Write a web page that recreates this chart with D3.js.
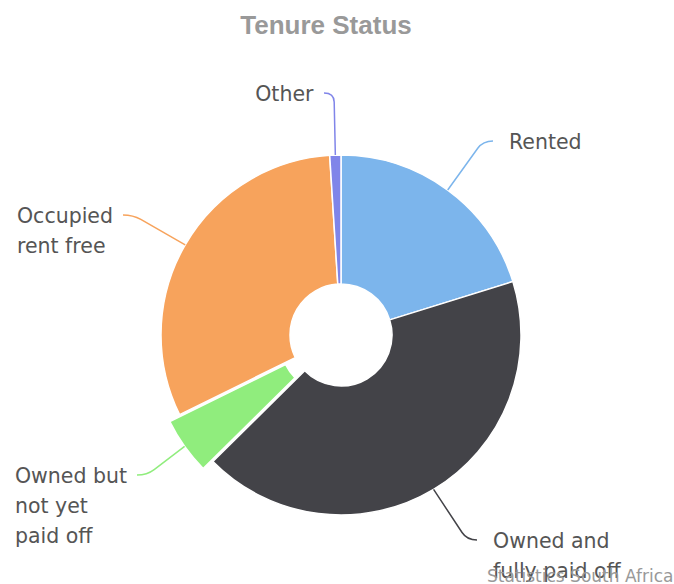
<!DOCTYPE html>
<html>
<head>
<meta charset="utf-8">
<script src="https://cdn.jsdelivr.net/npm/d3@7"></script>
<style>
  html, body { margin: 0; padding: 0; background: #fff; }
  svg { display: block; }
</style>
</head>
<body>
<svg id="chart" width="674" height="584"></svg>
<script>
// ---- data ----
const categories = ["Rented", "Owned and fully paid off", "Owned but not yet paid off", "Occupied rent free", "Other"];
const values = [20.2, 42.4, 5.1, 31.3, 1.0];
const labelLines = [["Rented"], ["Owned and", "fully paid off"], ["Owned but", "not yet", "paid off"], ["Occupied", "rent free"], ["Other"]];
const colors = ["#7cb5ec", "#434348", "#90ed7d", "#f7a35c", "#8085e9"];
const sliced = [false, false, true, false, false];
const titleText = "Tenure Status";
const creditText = "Statistics South Africa";

// ---- layout ----
const W = 674, H = 584;
const cx = 341, cy = 335, outerR = 180, innerR = 51, sliceOffset = 12;
// connector end points relative to pie centre, label side
const labelAnchors = [
  { dx: 152, dy: -194, side: 1 },
  { dx: 136, dy: 205, side: 1 },
  { dx: -204, dy: 140, side: -1 },
  { dx: -218, dy: -120, side: -1 },
  { dx: -17, dy: -242, side: -1 }
];

const svg = d3.select("#chart");

svg.append("text")
  .attr("x", 326).attr("y", 34)
  .attr("text-anchor", "middle")
  .style("font-family", "'Liberation Sans', Arial, sans-serif")
  .style("font-weight", "bold")
  .style("font-size", "26px")
  .style("fill", "#999")
  .text(titleText);

const pie = d3.pie().sort(null).value(d => d).startAngle(0).endAngle(2 * Math.PI);
const arcs = pie(values);
const arc = d3.arc().innerRadius(innerR).outerRadius(outerR);

const g = svg.append("g").attr("transform", `translate(${cx},${cy})`);

function offsetOf(d, i) {
  if (!sliced[i]) return [0, 0];
  const a = (d.startAngle + d.endAngle) / 2;
  return [Math.sin(a) * sliceOffset, -Math.cos(a) * sliceOffset];
}

g.selectAll("path.slice")
  .data(arcs)
  .join("path")
  .attr("class", "slice")
  .attr("d", arc)
  .attr("transform", (d, i) => { const o = offsetOf(d, i); return `translate(${o[0]},${o[1]})`; })
  .attr("fill", (d, i) => colors[i])
  .attr("stroke", "#fff")
  .attr("stroke-width", 1.5)
  .attr("stroke-linejoin", "round");

// connectors
g.selectAll("path.conn")
  .data(arcs)
  .join("path")
  .attr("class", "conn")
  .attr("fill", "none")
  .attr("stroke", (d, i) => colors[i])
  .attr("stroke-width", 1.5)
  .attr("d", (d, i) => {
    const a = (d.startAngle + d.endAngle) / 2;
    const o = offsetOf(d, i);
    const sx = Math.sin(a) * outerR + o[0], sy = -Math.cos(a) * outerR + o[1];
    const la = labelAnchors[i];
    const ex = la.dx, ey = la.dy;
    const kx = ex - la.side * 10, ky = ey;
    const len = Math.hypot(kx - sx, ky - sy);
    const t = Math.max(0, (len - 9) / len);
    const px = sx + (kx - sx) * t, py = sy + (ky - sy) * t;
    const p = d3.path();
    p.moveTo(sx, sy);
    p.lineTo(px, py);
    p.quadraticCurveTo(kx, ky, ex, ey);
    return p.toString();
  });

// labels
const lab = g.selectAll("text.lab")
  .data(arcs)
  .join("text")
  .attr("class", "lab")
  .attr("y", (d, i) => labelAnchors[i].dy + 8)
  .attr("text-anchor", "start")
  .style("font-family", "'DejaVu Sans', Verdana, sans-serif")
  .style("font-size", "20.5px")
  .style("fill", "#555");

lab.each(function(d, i) {
  const t = d3.select(this);
  const la = labelAnchors[i];
  const lines = labelLines[i];
  const spans = t.selectAll("tspan").data(lines).join("tspan")
    .attr("x", 0)
    .attr("dy", (l, j) => j === 0 ? 0 : 30)
    .text(l => l);
  let x0;
  if (la.side < 0) {
    const w = this.getBBox().width;
    x0 = la.dx - 10 - w;
  } else {
    x0 = la.dx + 16;
  }
  spans.attr("x", x0);
});

svg.append("text")
  .attr("x", 487).attr("y", 582)
  .style("font-family", "'DejaVu Sans', Verdana, sans-serif")
  .style("font-size", "17px")
  .style("fill", "#999")
  .text(creditText);
</script>
</body>
</html>
